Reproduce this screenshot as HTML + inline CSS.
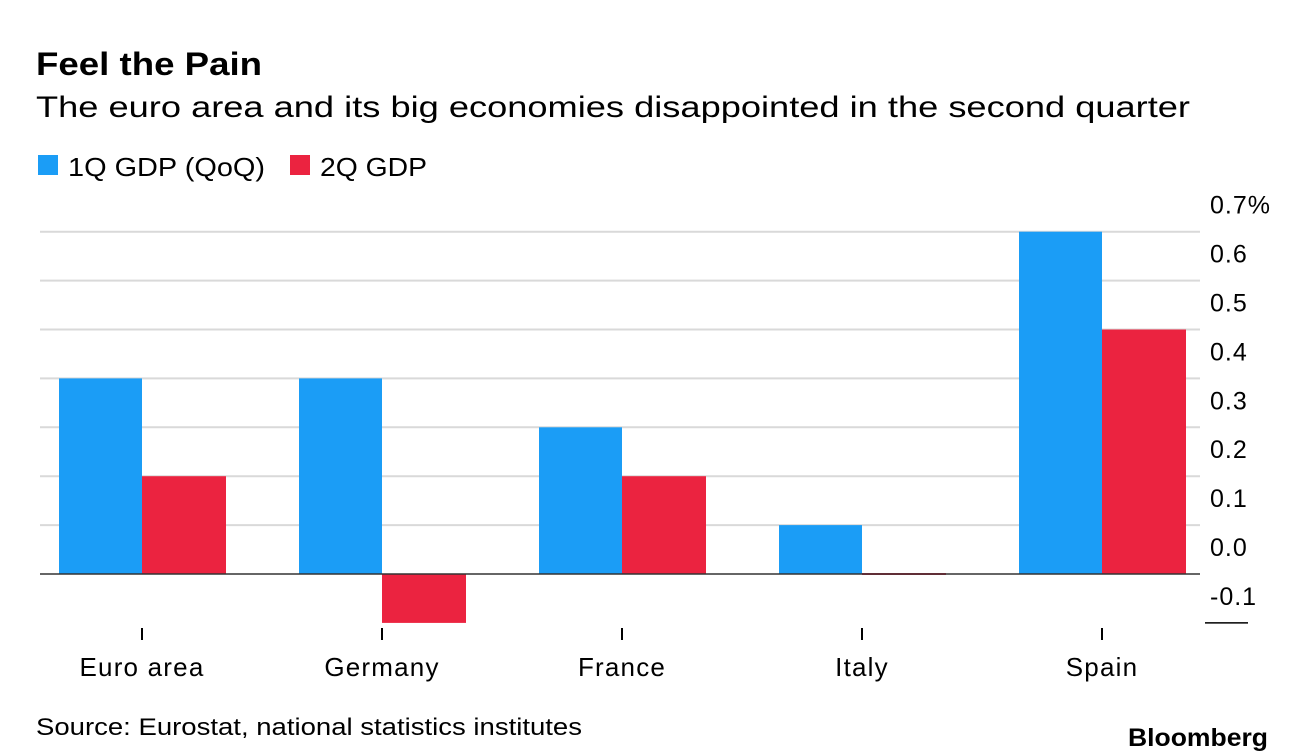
<!DOCTYPE html>
<html><head><meta charset="utf-8"><style>
body{margin:0;background:#fff;font-family:"Liberation Sans",sans-serif;}
#c{position:relative;width:1296px;height:756px;overflow:hidden}
</style></head><body>
<div id="c">
<svg width="1296" height="756">
<text x="36" y="75" font-size="32" font-weight="bold" fill="#000" textLength="226" lengthAdjust="spacingAndGlyphs">Feel the Pain</text>
<text x="36" y="117" font-size="30" fill="#000" textLength="1154" lengthAdjust="spacingAndGlyphs">The euro area and its big economies disappointed in the second quarter</text>
<rect x="38" y="155" width="20" height="20" fill="#1b9df6"/>
<text x="68" y="176" font-size="26" textLength="197" lengthAdjust="spacingAndGlyphs">1Q GDP (QoQ)</text>
<rect x="290" y="155" width="20" height="20" fill="#eb2340"/>
<text x="320" y="176" font-size="26" textLength="107" lengthAdjust="spacingAndGlyphs">2Q GDP</text>
<g id="plot"></g>
<text x="36" y="735" font-size="24" textLength="546" lengthAdjust="spacingAndGlyphs">Source: Eurostat, national statistics institutes</text>
<text x="1128" y="746" font-size="25" font-weight="bold" textLength="140" lengthAdjust="spacingAndGlyphs">Bloomberg</text>
</svg></div>
<script>
const categories=["Euro area","Germany","France","Italy","Spain"];
const q1=[0.4,0.4,0.3,0.1,0.7];
const q2=[0.2,-0.1,0.2,0.0,0.5];
const ticks=[0.7,0.6,0.5,0.4,0.3,0.2,0.1,0.0,-0.1];
const tickLabels=["0.7%","0.6","0.5","0.4","0.3","0.2","0.1","0.0","-0.1"];
const NS="http://www.w3.org/2000/svg";
const g=document.getElementById('plot');
const y=v=>574-v*489;
const xc=i=>142+i*240;
function mk(t,a){const e=document.createElementNS(NS,t);for(const k in a)e.setAttribute(k,a[k]);g.appendChild(e);return e;}
ticks.forEach((t,i)=>{
 if(t!==0&&t>-0.05){const l=mk('line',{x1:40,x2:1200,y1:y(t),y2:y(t),stroke:'#d9d9d9','stroke-width':2});
 
 }
 const tx=mk('text',{x:1210,y:y(t)-18,'font-size':25,'letter-spacing':'1'});tx.textContent=tickLabels[i];
 
 
});
const bl=mk('line',{x1:1205,x2:1248,y1:y(-0.1),y2:y(-0.1),stroke:'#000','stroke-width':1.5});


categories.forEach((c,i)=>{
 const v1=q1[i],v2=q2[i];
 const b1=mk('rect',{x:xc(i)-83,y:Math.min(y(v1),574),width:83,height:Math.max(Math.abs(y(v1)-574),1),fill:'#1b9df6'});
 
 
 const b2=mk('rect',{x:xc(i),y:Math.min(y(v2),574)-(v2===0?1:0),width:84,height:Math.max(Math.abs(y(v2)-574),2),fill:'#eb2340'});
 
 
 const tk=mk('line',{x1:xc(i),x2:xc(i),y1:628,y2:640,stroke:'#000','stroke-width':2});
 
 
 const lb=mk('text',{x:xc(i),y:676,'font-size':26,'text-anchor':'middle','letter-spacing':'1.2'});lb.textContent=c;
 
 
});
const z=mk('line',{x1:40,x2:1200,y1:574,y2:574,stroke:'#333','stroke-width':1.5});


</script>
</body></html>
